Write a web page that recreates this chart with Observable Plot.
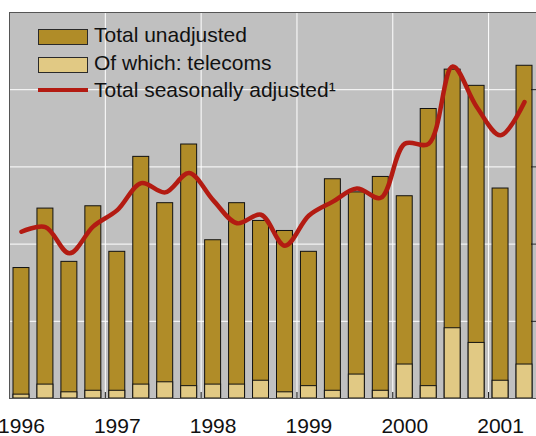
<!DOCTYPE html>
<html>
<head>
<meta charset="utf-8">
<script src="https://cdn.jsdelivr.net/npm/d3@7"></script>
<script src="https://cdn.jsdelivr.net/npm/@observablehq/plot@0.6"></script>
<style>
  body { margin: 0; background: #fff; }
  #chart { position: relative; width: 536px; height: 436px; overflow: hidden; font-family: "Liberation Sans", Arial, sans-serif; }
  #chart svg { display: block; }
  .legend-text { position: absolute; left: 94px; font-size: 21px; line-height: 21px; color: #111; white-space: nowrap; }
  .legend-swatch { position: absolute; left: 38px; width: 50px; height: 16px; box-sizing: border-box; border: 1px solid #2a2a2a; }
  .legend-line { position: absolute; left: 38px; width: 50px; height: 4px; background: #b31b12; }
</style>
</head>
<body>
<div id="chart"></div>
<script>
// Quarters shown (1996 Q1 – 2001 Q2)
const years    = [1996,1996,1996,1996, 1997,1997,1997,1997, 1998,1998,1998,1998, 1999,1999,1999,1999, 2000,2000,2000,2000, 2001,2001];
const quarters = [1,2,3,4, 1,2,3,4, 1,2,3,4, 1,2,3,4, 1,2,3,4, 1,2];

// Series values (in grid-step units)
const totalUnadjusted = [1.69,2.46,1.77,2.49, 1.90,3.13,2.53,3.29, 2.05,2.53,2.30,2.17, 1.90,2.84,2.67,2.87, 2.62,3.75,4.26,4.05, 2.72,4.31];
const telecoms        = [0.05,0.18,0.08,0.10, 0.10,0.18,0.21,0.16, 0.18,0.18,0.23,0.08, 0.16,0.10,0.31,0.10, 0.44,0.16,0.91,0.72, 0.23,0.44];
const seasonallyAdjusted = [2.16,2.22,1.88,2.23, 2.44,2.79,2.67,2.92, 2.57,2.27,2.38,1.98, 2.37,2.55,2.72,2.60, 3.30,3.30,4.30,3.78, 3.41,3.84];

// Axis labels and grid
const yearLabels = ["1996","1997","1998","1999","2000","2001"];
const gridValues = [1,2,3,4];

// Table built from the arrays above
const rows = years.map((y, i) => ({
  t0: y + (quarters[i] - 1) / 4,
  t1: y + quarters[i] / 4,
  tc: y + (quarters[i] - 0.5) / 4,
  total: totalUnadjusted[i],
  tel: telecoms[i],
  sa: seasonallyAdjusted[i]
}));
const yearStarts = yearLabels.map(Number);
const labelTicks = yearStarts.map(y => y + 0.125);
const boundaryTicks = yearStarts.slice(1);

const chart = Plot.plot({
  width: 536,
  height: 436,
  marginTop: 12,
  marginLeft: 9,
  marginRight: 0,
  marginBottom: 38,
  x: { domain: [1996, 2001.5], label: null },
  y: { domain: [0, 5], label: null },
  style: { fontFamily: "'Liberation Sans', Arial, sans-serif", fontSize: "21px", background: "transparent", color: "#111" },
  marks: [
    Plot.frame({ fill: "#c0c0c0", stroke: null }),
    Plot.gridX({ ticks: boundaryTicks, stroke: "#fff", strokeOpacity: 1, strokeWidth: 1 }),
    Plot.gridY({ ticks: gridValues, stroke: "#fff", strokeOpacity: 1, strokeWidth: 1 }),
    Plot.rectY(rows, { x1: "t0", x2: "t1", y: "total", fill: "#b08c28", stroke: "#111", strokeWidth: 1, insetLeft: 4, insetRight: 4 }),
    Plot.rectY(rows, { x1: "t0", x2: "t1", y: "tel", fill: "#e1c984", stroke: "#111", strokeWidth: 1, insetLeft: 4, insetRight: 4 }),
    Plot.line(rows, { x: "tc", y: "sa", stroke: "#b31b12", strokeWidth: 4.5, curve: "catmull-rom", strokeLinejoin: "round", strokeLinecap: "round" }),
    Plot.ruleY([0], { stroke: "#111", strokeWidth: 1.2 }),
    Plot.axisX({ ticks: labelTicks, tickFormat: d => String(Math.floor(d)), tickSize: 0, tickPadding: 20, fontSize: 21, fill: "#111", label: null }),
    Plot.axisX({ ticks: boundaryTicks, tickSize: -6, text: null, label: null, stroke: "#111" }),
    Plot.axisY({ anchor: "right", ticks: gridValues, tickSize: -6, text: null, label: null, stroke: "#111" }),
    Plot.frame({ stroke: "#555", strokeWidth: 1 })
  ]
});

const container = document.getElementById("chart");
container.appendChild(chart);

// Legend inside the plot area (top-left)
const legendItems = [
  { label: "Total unadjusted", kind: "swatch", color: "#b08c28", top: 24 },
  { label: "Of which: telecoms", kind: "swatch", color: "#e1c984", top: 52 },
  { label: "Total seasonally adjusted\u00b9", kind: "line", color: "#b31b12", top: 79 }
];
legendItems.forEach(item => {
  const sym = document.createElement("div");
  if (item.kind === "swatch") {
    sym.className = "legend-swatch";
    sym.style.top = (item.top + 5) + "px";
    sym.style.background = item.color;
  } else {
    sym.className = "legend-line";
    sym.style.top = (item.top + 9) + "px";
    sym.style.background = item.color;
  }
  container.appendChild(sym);
  const txt = document.createElement("div");
  txt.className = "legend-text";
  txt.style.top = item.top + "px";
  txt.textContent = item.label;
  container.appendChild(txt);
});
</script>
</body>
</html>
